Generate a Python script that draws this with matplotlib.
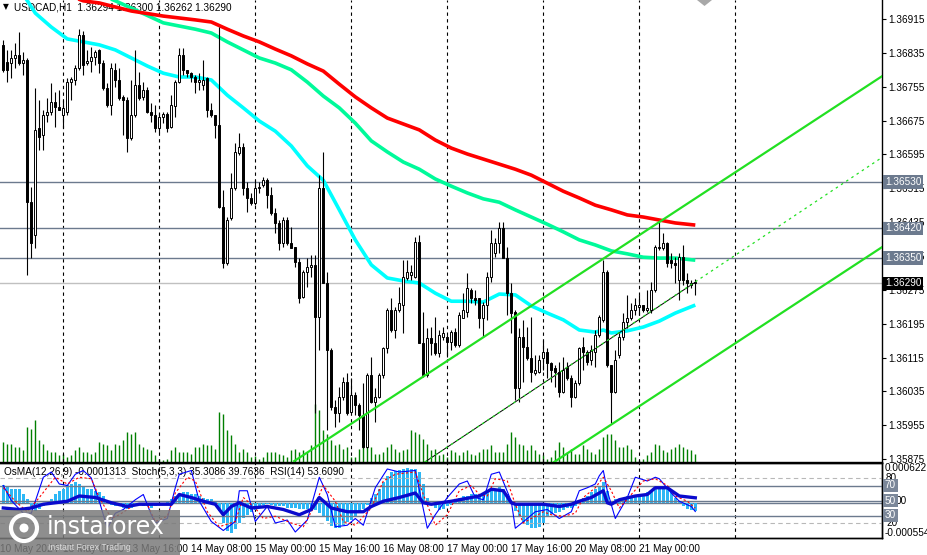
import matplotlib.pyplot as plt
import matplotlib.transforms as mtransforms
from matplotlib.patches import Rectangle, Ellipse, Polygon
import numpy as np

plt.rcParams['font.family'] = ['Liberation Sans', 'DejaVu Sans']

# ---------------- data (USDCAD H1) ----------------
header = "USDCAD,H1  1.36294 1.36300 1.36262 1.36290"
ind_header = "OsMA(12,26,9) -0.0001313  Stoch(5,3,3) 35.3086 39.7636  RSI(14) 53.6090"

opens = [1.36854, 1.36813, 1.36811, 1.36823, 1.36830, 1.36811, 1.36818, 1.36482, 1.36404, 1.36657,
         1.36641, 1.36688, 1.36695, 1.36719, 1.36707, 1.36688, 1.36695, 1.36766, 1.36771, 1.36799,
         1.36877, 1.36811, 1.36816, 1.36825, 1.36842, 1.36811, 1.36752, 1.36712, 1.36795, 1.36771,
         1.36731, 1.36724, 1.36634, 1.36688, 1.36759, 1.36731, 1.36747, 1.36695, 1.36688, 1.36657,
         1.36683, 1.36690, 1.36660, 1.36709, 1.36766, 1.36830, 1.36795, 1.36787, 1.36778, 1.36766,
         1.36759, 1.36776, 1.36700, 1.36688, 1.36664, 1.36471, 1.36338, 1.36445, 1.36516, 1.36598,
         1.36612, 1.36516, 1.36492, 1.36480, 1.36516, 1.36523, 1.36534, 1.36499, 1.36456, 1.36433,
         1.36386, 1.36440, 1.36386, 1.36376, 1.36341, 1.36258, 1.36317, 1.36329, 1.36334, 1.36211,
         1.36516, 1.36291, 1.36133, 1.35998, 1.35984, 1.36021, 1.36057, 1.35986, 1.36026, 1.36003,
         1.35979, 1.35903, 1.36073, 1.36010, 1.36021, 1.36073, 1.36137, 1.36227, 1.36180, 1.36227,
         1.36239, 1.36303, 1.36310, 1.36305, 1.36388, 1.36149, 1.36073, 1.36161, 1.36149, 1.36126,
         1.36163, 1.36163, 1.36152, 1.36175, 1.36144, 1.36208, 1.36222, 1.36274, 1.36256, 1.36256,
         1.36208, 1.36239, 1.36305, 1.36362, 1.36386, 1.36421, 1.36350, 1.36267, 1.36222, 1.36043,
         1.36163, 1.36140, 1.36114, 1.36078, 1.36081, 1.36114, 1.36128, 1.36102, 1.36090, 1.36081,
         1.36033, 1.36092, 1.36066, 1.36021, 1.36055, 1.36140, 1.36128, 1.36109, 1.36128, 1.36168,
         1.36204, 1.36317, 1.36097, 1.36033, 1.36121, 1.36163, 1.36199, 1.36208, 1.36227, 1.36234,
         1.36239, 1.36227, 1.36227, 1.36274, 1.36374, 1.36374, 1.36386, 1.36345, 1.36338, 1.36298,
         1.36352, 1.36298, 1.36286, 1.36294]
highs = [1.36865, 1.36842, 1.36842, 1.36858, 1.36884, 1.36837, 1.36823, 1.36518, 1.36752, 1.36724,
         1.36700, 1.36728, 1.36764, 1.36743, 1.36747, 1.36724, 1.36776, 1.36778, 1.36806, 1.36891,
         1.36887, 1.36842, 1.36849, 1.36842, 1.36844, 1.36818, 1.36764, 1.36811, 1.36811, 1.36799,
         1.36735, 1.36731, 1.36771, 1.36842, 1.36790, 1.36766, 1.36754, 1.36717, 1.36712, 1.36693,
         1.36695, 1.36695, 1.36735, 1.36771, 1.36847, 1.36847, 1.36795, 1.36790, 1.36783, 1.36787,
         1.36818, 1.36778, 1.36717, 1.36688, 1.36896, 1.36511, 1.36447, 1.36551, 1.36622, 1.36646,
         1.36622, 1.36530, 1.36504, 1.36534, 1.36530, 1.36542, 1.36539, 1.36518, 1.36468, 1.36440,
         1.36447, 1.36447, 1.36423, 1.36376, 1.36350, 1.36322, 1.36350, 1.36357, 1.36357, 1.36546,
         1.36601, 1.36317, 1.36137, 1.36014, 1.36045, 1.36069, 1.36078, 1.36066, 1.36033, 1.36007,
         1.36055, 1.36078, 1.36116, 1.36043, 1.36078, 1.36140, 1.36232, 1.36256, 1.36234, 1.36282,
         1.36345, 1.36345, 1.36334, 1.36400, 1.36404, 1.36222, 1.36185, 1.36187, 1.36211, 1.36180,
         1.36187, 1.36168, 1.36180, 1.36185, 1.36222, 1.36267, 1.36315, 1.36279, 1.36274, 1.36256,
         1.36246, 1.36317, 1.36416, 1.36397, 1.36435, 1.36435, 1.36376, 1.36291, 1.36227, 1.36185,
         1.36204, 1.36187, 1.36211, 1.36121, 1.36121, 1.36156, 1.36137, 1.36104, 1.36097, 1.36104,
         1.36116, 1.36104, 1.36073, 1.36062, 1.36140, 1.36163, 1.36133, 1.36144, 1.36180, 1.36215,
         1.36345, 1.36322, 1.36097, 1.36133, 1.36173, 1.36220, 1.36263, 1.36244, 1.36256, 1.36263,
         1.36239, 1.36274, 1.36293, 1.36381, 1.36435, 1.36409, 1.36388, 1.36362, 1.36352, 1.36362,
         1.36381, 1.36315, 1.36298, 1.36300]
lows = [1.36790, 1.36766, 1.36776, 1.36799, 1.36806, 1.36783, 1.36310, 1.36350, 1.36374, 1.36605,
        1.36605, 1.36672, 1.36688, 1.36660, 1.36700, 1.36657, 1.36688, 1.36724, 1.36759, 1.36795,
        1.36783, 1.36806, 1.36790, 1.36806, 1.36787, 1.36747, 1.36707, 1.36688, 1.36754, 1.36724,
        1.36641, 1.36601, 1.36629, 1.36683, 1.36724, 1.36724, 1.36693, 1.36672, 1.36648, 1.36646,
        1.36669, 1.36648, 1.36657, 1.36683, 1.36764, 1.36783, 1.36778, 1.36766, 1.36740, 1.36747,
        1.36747, 1.36683, 1.36683, 1.36634, 1.36468, 1.36326, 1.36334, 1.36440, 1.36511, 1.36594,
        1.36499, 1.36459, 1.36475, 1.36475, 1.36504, 1.36518, 1.36468, 1.36452, 1.36409, 1.36369,
        1.36376, 1.36381, 1.36374, 1.36329, 1.36244, 1.36256, 1.36282, 1.36305, 1.35984, 1.36133,
        1.36291, 1.35943, 1.35991, 1.35951, 1.35962, 1.36014, 1.35979, 1.35984, 1.35979, 1.35943,
        1.35901, 1.35901, 1.36007, 1.35962, 1.36019, 1.36066, 1.36126, 1.36175, 1.36161, 1.36222,
        1.36173, 1.36298, 1.36298, 1.36303, 1.36149, 1.36069, 1.36069, 1.36121, 1.36121, 1.36116,
        1.36156, 1.36116, 1.36133, 1.36140, 1.36140, 1.36208, 1.36211, 1.36244, 1.36239, 1.36185,
        1.36163, 1.36204, 1.36293, 1.36352, 1.36362, 1.36350, 1.36215, 1.36173, 1.36014, 1.36010,
        1.36057, 1.36109, 1.36057, 1.36073, 1.36078, 1.36085, 1.36066, 1.36057, 1.36045, 1.36021,
        1.36031, 1.36062, 1.35998, 1.36019, 1.36050, 1.36085, 1.36097, 1.36097, 1.36092, 1.36163,
        1.36199, 1.36092, 1.35960, 1.36031, 1.36114, 1.36156, 1.36185, 1.36204, 1.36215, 1.36215,
        1.36222, 1.36222, 1.36220, 1.36270, 1.36369, 1.36369, 1.36329, 1.36326, 1.36291, 1.36251,
        1.36286, 1.36267, 1.36279, 1.36262]
closes = [1.36795, 1.36795, 1.36823, 1.36830, 1.36811, 1.36818, 1.36482, 1.36386, 1.36653, 1.36636,
          1.36688, 1.36695, 1.36719, 1.36707, 1.36700, 1.36705, 1.36766, 1.36773, 1.36799, 1.36877,
          1.36806, 1.36816, 1.36825, 1.36837, 1.36811, 1.36752, 1.36712, 1.36799, 1.36771, 1.36728,
          1.36724, 1.36634, 1.36688, 1.36759, 1.36728, 1.36747, 1.36695, 1.36688, 1.36657, 1.36683,
          1.36690, 1.36657, 1.36712, 1.36766, 1.36830, 1.36795, 1.36787, 1.36778, 1.36766, 1.36771,
          1.36771, 1.36700, 1.36688, 1.36664, 1.36471, 1.36338, 1.36440, 1.36516, 1.36601, 1.36612,
          1.36516, 1.36492, 1.36480, 1.36516, 1.36518, 1.36534, 1.36499, 1.36456, 1.36433, 1.36386,
          1.36440, 1.36386, 1.36374, 1.36341, 1.36256, 1.36317, 1.36329, 1.36334, 1.36211, 1.36516,
          1.36291, 1.36133, 1.35998, 1.35984, 1.36021, 1.36057, 1.35984, 1.36026, 1.36003, 1.35979,
          1.35903, 1.36073, 1.36010, 1.36021, 1.36073, 1.36137, 1.36227, 1.36180, 1.36227, 1.36244,
          1.36305, 1.36317, 1.36317, 1.36388, 1.36149, 1.36073, 1.36161, 1.36149, 1.36126, 1.36168,
          1.36173, 1.36152, 1.36175, 1.36144, 1.36215, 1.36227, 1.36279, 1.36256, 1.36251, 1.36208,
          1.36239, 1.36305, 1.36386, 1.36386, 1.36421, 1.36350, 1.36267, 1.36220, 1.36043, 1.36163,
          1.36140, 1.36114, 1.36081, 1.36085, 1.36109, 1.36128, 1.36102, 1.36085, 1.36081, 1.36033,
          1.36085, 1.36066, 1.36021, 1.36055, 1.36137, 1.36128, 1.36104, 1.36133, 1.36168, 1.36211,
          1.36317, 1.36097, 1.36033, 1.36109, 1.36163, 1.36199, 1.36208, 1.36227, 1.36239, 1.36239,
          1.36227, 1.36232, 1.36274, 1.36376, 1.36376, 1.36386, 1.36338, 1.36338, 1.36334, 1.36352,
          1.36298, 1.36291, 1.36291, 1.36290]
volumes = [20, 18, 18, 15, 15, 12, 35, 33, 42, 22, 18, 12, 10, 10, 7, 8, 5, 7, 12, 15,
           10, 10, 8, 10, 20, 18, 17, 12, 18, 17, 22, 30, 28, 30, 18, 15, 13, 12, 7, 3,
           2, 3, 12, 15, 10, 10, 10, 8, 15, 15, 18, 17, 17, 13, 50, 48, 32, 27, 18, 10,
           13, 10, 5, 6, 3, 5, 10, 10, 10, 8, 7, 5, 12, 13, 10, 12, 10, 17, 58, 52,
           32, 28, 22, 17, 18, 13, 15, 5, 5, 13, 22, 20, 15, 8, 8, 10, 15, 18, 13, 10,
           12, 13, 32, 30, 28, 23, 18, 12, 13, 7, 8, 5, 12, 10, 7, 10, 12, 8, 7, 10,
           13, 13, 17, 10, 10, 10, 18, 30, 25, 18, 17, 12, 17, 12, 8, 7, 3, 5, 12, 20,
           15, 10, 13, 8, 8, 17, 13, 10, 8, 13, 25, 28, 28, 22, 15, 15, 17, 13, 5, 2,
           3, 7, 10, 18, 17, 12, 10, 13, 15, 18, 15, 13, 12, 8]

# moving averages, sampled at bar numbers
fast_bars = [0, 4, 8, 12, 16, 20, 24, 28, 32, 36, 40, 44, 48, 52, 56, 60, 64, 68, 72, 76, 80, 84, 88,
             92, 96, 100, 104, 108, 112, 116, 120, 124, 128, 132, 136, 140, 144, 148, 150, 152, 156,
             160, 164, 168, 173]
fast_ma = [1.37043, 1.36988, 1.36929, 1.36896, 1.36868, 1.36861, 1.36854, 1.36842, 1.36823, 1.36804,
           1.36787, 1.36778, 1.36778, 1.36771, 1.36735, 1.36705, 1.36674, 1.36650, 1.36615, 1.36568,
           1.36534, 1.36464, 1.36393, 1.36334, 1.36303, 1.36296, 1.36291, 1.36267, 1.36248, 1.36248,
           1.36246, 1.36265, 1.36263, 1.36237, 1.36220, 1.36204, 1.36180, 1.36175, 1.36180, 1.36173,
           1.36178, 1.36187, 1.36201, 1.36220, 1.36239]
mid_bars = [0, 8, 16, 24, 28, 32, 40, 48, 52, 56, 60, 64, 68, 72, 76, 80, 84, 88, 92, 96, 100, 104,
            108, 112, 116, 120, 124, 128, 132, 136, 140, 144, 148, 152, 156, 160, 164, 168, 173]
mid_ma = [1.37066, 1.37031, 1.37000, 1.36974, 1.36958, 1.36941, 1.36906, 1.36891, 1.36882, 1.36861,
          1.36842, 1.36823, 1.36811, 1.36795, 1.36766, 1.36733, 1.36705, 1.36669, 1.36627, 1.36601,
          1.36577, 1.36560, 1.36537, 1.36520, 1.36504, 1.36490, 1.36482, 1.36464, 1.36447, 1.36430,
          1.36412, 1.36393, 1.36381, 1.36367, 1.36360, 1.36352, 1.36350, 1.36350, 1.36345]
slow_bars = [0, 8, 16, 20, 24, 32, 40, 48, 52, 56, 60, 64, 68, 72, 76, 80, 84, 88, 92, 96, 100, 104,
             108, 112, 116, 120, 124, 128, 132, 136, 140, 144, 148, 152, 156, 160, 164, 168, 173]
slow_ma = [1.37019, 1.36995, 1.36972, 1.36958, 1.36953, 1.36934, 1.36922, 1.36913, 1.36908, 1.36891,
           1.36875, 1.36861, 1.36844, 1.36828, 1.36809, 1.36792, 1.36761, 1.36731, 1.36705, 1.36681,
           1.36667, 1.36653, 1.36629, 1.36610, 1.36596, 1.36584, 1.36572, 1.36560, 1.36546, 1.36527,
           1.36508, 1.36492, 1.36475, 1.36464, 1.36452, 1.36447, 1.36440, 1.36433, 1.36428]

# horizontal levels and the bid line
levels = [1.36530, 1.36420, 1.36350]
bid = 1.36290

# trend lines: (bar, price) anchors
upper_channel = [(72.7, 1.35870), (219.7, 1.36780)]
lower_channel = [(137.7, 1.35868), (219.7, 1.36376)]
thin_line = [(105.4, 1.35868), (173.0, 1.36293)]
thin_ext = [(105.4, 1.35868), (219.7, 1.36588)]

# time axis
day_bars = [15, 39, 63, 87, 111, 135, 159, 183]
time_ticks = [-0.8, 15, 31, 47, 63, 79, 95, 111, 127, 143, 159]
time_labels = ["10 May 2024", "13 May 00:00", "13 May 16:00", "14 May 08:00", "15 May 00:00",
               "15 May 16:00", "16 May 08:00", "17 May 00:00", "17 May 16:00", "20 May 08:00",
               "21 May 00:00"]
price_ticks = [1.36915, 1.36835, 1.36755, 1.36675, 1.36595, 1.36515, 1.36435, 1.36355,
               1.36275, 1.36195, 1.36115, 1.36035, 1.35955, 1.35875]

# indicators
osma = [0.00027, 0.00024, 0.00022, 0.00021, 0.00021, 0.00014, 0.00005, -0.00010, -0.00013, -0.00010,
        -0.00005, 0.0, 0.00006, 0.00013, 0.00018, 0.00022, 0.00027, 0.00030, 0.00032, 0.00030,
        0.00026, 0.00022, 0.00021, 0.00019, 0.00016, 0.00010, 0.00003, -0.00003, -0.00005, -0.00006,
        -0.00008, -0.00010, -0.00008, -0.00005, -0.00003, -0.00005, -0.00006, -0.00008, -0.00006, -0.00003,
        0.0, 0.00002, 0.00005, 0.00010, 0.00014, 0.00016, 0.00016, 0.00014, 0.00013, 0.00011,
        0.00008, 0.00006, 0.00005, 0.00002, -0.00013, -0.00032, -0.00045, -0.00048, -0.00042, -0.00032,
        -0.00024, -0.00019, -0.00014, -0.00011, -0.00006, -0.00003, -0.00002, -0.00003, -0.00005, -0.00006,
        -0.00006, -0.00008, -0.00008, -0.00008, -0.00010, -0.00010, -0.00010, -0.00008, -0.00011, -0.00016,
        -0.00021, -0.00029, -0.00037, -0.00040, -0.00040, -0.00035, -0.00030, -0.00027, -0.00022, -0.00016,
        -0.00010, -0.00003, 0.00008, 0.00014, 0.00021, 0.00032, 0.00042, 0.00048, 0.00050, 0.00051,
        0.00053, 0.00054, 0.00053, 0.00053, 0.00048, 0.00029, 0.00008, -0.00003, -0.00008, -0.00011,
        -0.00010, -0.00006, -0.00003, 0.00003, 0.00008, 0.00011, 0.00011, 0.00013, 0.00013, 0.00013,
        0.00014, 0.00016, 0.00019, 0.00022, 0.00024, 0.00022, 0.00013, 0.00003, -0.00013, -0.00022,
        -0.00030, -0.00035, -0.00040, -0.00040, -0.00038, -0.00032, -0.00022, -0.00018, -0.00016, -0.00014,
        -0.00011, -0.00008, -0.00008, -0.00005, 0.00003, 0.00008, 0.00011, 0.00016, 0.00021, 0.00024,
        0.00032, 0.00019, 0.00003, 0.00005, 0.00006, 0.00008, 0.00010, 0.00011, 0.00011, 0.00013,
        0.00014, 0.00016, 0.00019, 0.00021, 0.00022, 0.00022, 0.00021, 0.00016, 0.00008, 0.00003,
        -0.00005, -0.00010, -0.00012, -0.00013]
osma_top, osma_bottom = 0.000622, -0.000554

stoch_bars = [0, 2, 5, 7, 10, 12, 14, 16, 18, 20, 22, 24, 26, 28, 30, 33, 35, 37, 38, 41, 43, 44, 47,
              49, 52, 55, 58, 59, 61, 63, 66, 68, 71, 73, 76, 79, 81, 83, 86, 88, 90, 93, 96, 99, 103,
              106, 108, 111, 114, 116, 118, 120, 122, 124, 127, 128, 131, 133, 136, 139, 142, 144, 146,
              148, 149, 150, 151, 153, 156, 158, 161, 163, 164, 167, 169, 172, 173]
stoch_main = [70, 50, 33, 33, 81, 88, 72, 70, 85, 90, 80, 49, 13, 33, 38, 51, 58, 31, 20, 26, 67, 85, 90,
              49, 22, 10, 22, 63, 63, 22, 42, 20, 24, 8, 24, 81, 58, 15, 17, 26, 17, 67, 92, 88, 90,
              13, 31, 54, 72, 76, 54, 51, 85, 88, 49, 13, 26, 35, 38, 26, 35, 63, 67,
              72, 83, 90, 63, 26, 54, 81, 76, 81, 79, 60, 49, 42, 35.3]
signal_bars = [0, 3, 6, 9, 13, 16, 19, 22, 24, 27, 29, 33, 36, 38, 41, 43, 46, 48, 51, 54, 58, 60, 63,
               65, 68, 72, 75, 78, 80, 83, 85, 88, 92, 95, 98, 103, 105, 108, 111, 114, 117, 119, 121,
               123, 126, 128, 130, 133, 135, 137, 140, 143, 145, 148, 150, 152, 154, 157, 160, 163,
               166, 168, 171, 173]
stoch_signal = [67, 49, 35, 54, 81, 72, 81, 79, 54, 26, 31, 45, 45, 22, 29, 60, 81, 76, 35, 15, 22, 54, 40,
                26, 29, 20, 15, 45, 70, 49, 22, 17, 40, 76, 85, 88, 58, 17, 31, 63, 70, 58, 56,
                79, 76, 45, 20, 29, 35, 31, 29, 33, 54, 67, 81, 63, 40, 58, 76, 79,
                70, 56, 49, 39.8]
rsi_bars = [0, 4, 7, 10, 16, 19, 23, 27, 31, 34, 38, 42, 44, 47, 50, 53, 55, 57, 59, 62, 66, 70, 74, 77,
            79, 82, 86, 90, 92, 95, 99, 103, 105, 107, 112, 117, 119, 122, 125, 127, 128, 135, 139, 142,
            144, 147, 150, 151, 152, 154, 158, 161, 163, 166, 169, 173]
rsi = [40, 38, 40, 45, 49, 56, 54, 47, 42, 45, 45, 45, 58, 54, 49, 45, 31, 42, 47, 40, 42, 38, 31, 38,
       54, 40, 35, 35, 42, 49, 54, 60, 47, 45, 49, 54, 56, 65, 63, 47, 45, 45, 42, 45,
       49, 54, 63, 47, 45, 51, 56, 58, 67, 67, 56, 53.6]
stoch_levels_dashed = [80, 20]
stoch_levels_solid = [70, 50, 30]

# ---------------- figure ----------------
W, H = 928.0, 555.0
fig = plt.figure(figsize=(W / 100, H / 100), dpi=100)


def px_box(x0, y0, x1, y1):
    # pixel box (top-left origin) -> figure rect
    return [x0 / W, 1 - y1 / H, (x1 - x0) / W, (y1 - y0) / H]


ax = fig.add_axes(px_box(0, 0, 882, 462))
axv = ax.twinx()
ax.set_zorder(2)
axv.set_zorder(1)
ax.patch.set_visible(False)
ax_i = fig.add_axes(px_box(0, 463, 882, 538))
ax_s = ax_i.twinx()

xmin, xmax = -0.825, 219.675
idx = np.arange(len(closes))
o = np.array(opens)
c = np.array(closes)
up = c >= o

# volumes behind the candles
axv.vlines(idx, 0, volumes, color='#007f00', lw=1.0)
axv.set_ylim(0, max(volumes) * 7.9)
axv.axis('off')

# day separators
for b in day_bars:
    ax.axvline(b, color='black', lw=0.8, ls=(0, (3, 3)), zorder=1)
    ax_i.axvline(b, color='black', lw=0.8, ls=(0, (3, 3)), zorder=1)

# levels
for lv in levels:
    ax.axhline(lv, color='#6c7a8e', lw=1.0, zorder=1)
ax.axhline(bid, color='#c0c0c0', lw=1.0, zorder=1)

# header sits behind the lines, as in the terminal
ax.text(3 / 882, 1 - 7 / 462, "\u25BC", transform=ax.transAxes, fontsize=5.5, va='center',
        ha='left', family='DejaVu Sans', zorder=0.5)
ax.text(14 / 882, 1 - 7 / 462, header, transform=ax.transAxes, fontsize=7.2, va='center',
        ha='left', zorder=0.5)

# moving averages
ax.plot(fast_bars, fast_ma, color='#00ffff', lw=2.6, zorder=3, solid_capstyle='butt')
ax.plot(mid_bars, mid_ma, color='#00fa9a', lw=2.6, zorder=3, solid_capstyle='butt')
ax.plot(slow_bars, slow_ma, color='#ff0000', lw=2.6, zorder=3, solid_capstyle='butt')

# candles
ax.vlines(idx, lows, highs, color='black', lw=0.8, zorder=4)
body_lo = np.minimum(o, c)
body_h = np.maximum(np.abs(c - o), 0.000015)
ax.bar(idx[up], body_h[up], bottom=body_lo[up], width=0.55, facecolor='white',
       edgecolor='black', lw=0.7, zorder=5)
ax.bar(idx[~up], body_h[~up], bottom=body_lo[~up], width=0.55, facecolor='black',
       edgecolor='black', lw=0.7, zorder=5)

# trend lines
for line in (upper_channel, lower_channel):
    ax.plot([line[0][0], line[1][0]], [line[0][1], line[1][1]], color='#22e022', lw=1.6, zorder=6)
ax.plot([thin_line[0][0], thin_line[1][0]], [thin_line[0][1], thin_line[1][1]],
        color='black', lw=0.7, zorder=6)
ax.plot([thin_ext[0][0], thin_ext[1][0]], [thin_ext[0][1], thin_ext[1][1]],
        color='#22e022', lw=0.9, ls=(0, (2, 3)), zorder=6)

ax.set_xlim(xmin, xmax)
ax.set_ylim(1.35868, 1.36960)
ax.set_xticks([])
ax.yaxis.tick_right()
ax.set_yticks(price_ticks)
ax.set_yticklabels([f"{p:.5f}" for p in price_ticks])
ax.tick_params(axis='y', length=3, width=0.8, pad=1.5, labelsize=7.2, colors='black')
for s in ('left', 'top'):
    ax.spines[s].set_visible(False)
ax.spines['right'].set_linewidth(1.0)
ax.spines['bottom'].set_linewidth(1.0)

# price labels on the axis
tr_main = mtransforms.blended_transform_factory(fig.transFigure, ax.transData)
for lv in levels:
    fig.text(885 / W, lv, f"{lv:.5f}", transform=tr_main, color='white', fontsize=7.2,
             va='center', ha='left', bbox=dict(boxstyle='square,pad=0.18', fc='#6c7a8e', ec='none'))
fig.text(885 / W, bid, f"{bid:.5f}", transform=tr_main, color='white', fontsize=7.2,
         va='center', ha='left', bbox=dict(boxstyle='square,pad=0.18', fc='black', ec='none'))

fig.patches.append(Polygon([[697 / W, 1.0], [712 / W, 1.0], [704.5 / W, 1 - 6 / H]],
                           closed=True, transform=fig.transFigure, fc='#a8a8a8', ec='none'))

# ---------------- indicator window ----------------
ax_i.bar(idx, osma, width=0.75, color='#2db7f5', zorder=2)
ax_i.axhline(0, color='#6c7a8e', lw=1.0, zorder=1)
ax_i.set_ylim(osma_bottom, osma_top)
ax_i.set_xlim(xmin, xmax)

for lv in stoch_levels_dashed:
    ax_s.axhline(lv, color='#b8b8b8', lw=0.8, ls=(0, (4, 3)), zorder=1)
for lv in stoch_levels_solid:
    ax_s.axhline(lv, color='#6c7a8e', lw=1.0, zorder=1)
ax_s.plot(stoch_bars, stoch_main, color='#0000ff', lw=0.8, zorder=3)
ax_s.plot(signal_bars, stoch_signal, color='#ff0000', lw=0.8, ls=(0, (2, 2)), zorder=3)
ax_s.plot(rsi_bars, rsi, color='#0a0acd', lw=2.4, zorder=4)
ax_s.set_ylim(0, 100)
ax_s.set_xlim(xmin, xmax)

for a in (ax_i, ax_s):
    a.set_yticks([])
    a.spines['left'].set_visible(False)
    for s in ('top', 'bottom', 'right'):
        a.spines[s].set_linewidth(1.0)

ax_i.set_xticks(time_ticks)
ax_i.set_xticklabels(time_labels, ha='left')
ax_i.tick_params(axis='x', length=0, pad=4, labelsize=7.2)
ax_s.tick_params(axis='x', length=0)

ax_s.text(4 / 882, 1 - 9 / 75, ind_header, transform=ax_s.transAxes, fontsize=7.2,
          va='center', ha='left', zorder=0.5)

tr_osma = mtransforms.blended_transform_factory(fig.transFigure, ax_i.transData)
tr_st = mtransforms.blended_transform_factory(fig.transFigure, ax_s.transData)
fig.text(885 / W, osma_top, f"{osma_top:.6f}", transform=tr_osma, fontsize=7.2, va='top', ha='left')
fig.text(885 / W, osma_bottom, f"{osma_bottom:.6f}", transform=tr_osma, fontsize=7.2,
         va='bottom', ha='left')
for lv in stoch_levels_dashed:
    fig.text(886 / W, lv, f"{lv}", transform=tr_st, fontsize=7.2, va='center', ha='left')
fig.text(896 / W, 50, "00", transform=tr_st, fontsize=7.2, va='center', ha='left')
for lv in stoch_levels_solid:
    fig.text(885 / W, lv, f"{lv}", transform=tr_st, color='white', fontsize=7.2, va='center',
             ha='left', bbox=dict(boxstyle='square,pad=0.15', fc='#7b8799', ec='none'))

# ---------------- watermark ----------------
fig.patches.append(Rectangle((0, 0), 180 / W, 45 / H, transform=fig.transFigure,
                             fc='#7a7a7a', alpha=0.85, ec='none', zorder=8))
fig.patches.append(Ellipse((24 / W, 1 - 528 / H), 26 / W, 26 / H, transform=fig.transFigure,
                           fc='none', ec='white', lw=3, zorder=9))
fig.patches.append(Ellipse((24 / W, 1 - 528 / H), 9 / W, 9 / H, transform=fig.transFigure,
                           fc='white', ec='none', zorder=9))
fig.text(47 / W, 1 - 527 / H, "instaforex", fontsize=17, color='white', va='center', ha='left',
         family='DejaVu Sans', zorder=10)
fig.text(48 / W, 1 - 547 / H, "Instant Forex Trading", fontsize=6.3, color='#dddddd',
         va='center', ha='left', zorder=10)

fig.savefig("out.png", dpi=100, facecolor='white')
